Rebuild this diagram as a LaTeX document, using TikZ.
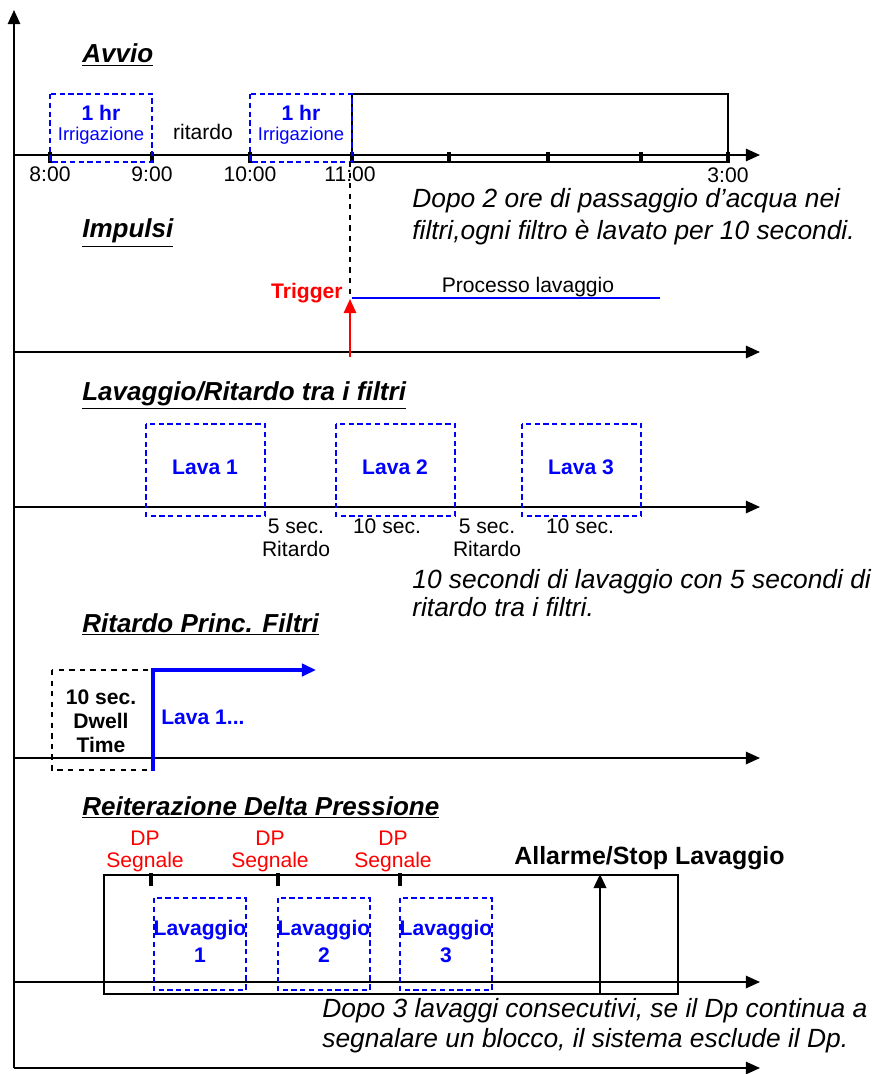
\documentclass[tikz,border=0pt]{standalone}
\usepackage{fontspec}
\setmainfont{Liberation Sans}
\usetikzlibrary{arrows.meta,positioning}

\tikzset{
  asse/.style={->, line width=1.1pt},
  titolo/.style={anchor=base west, inner sep=0pt, font=\fontsize{14.8}{17}\selectfont\bfseries\itshape},
  nota/.style={anchor=base west, inner sep=0pt, font=\fontsize{15}{18}\selectfont\itshape},
  etich/.style={inner sep=0pt, font=\fontsize{12}{14}\selectfont},
  etichb/.style={inner sep=0pt, font=\fontsize{12}{14}\selectfont\bfseries},
  blu/.style={draw=blue, line width=0.9pt, dash pattern=on 3pt off 2pt},
  tacca/.style={line width=2pt}
}

\begin{document}
\begin{tikzpicture}[x=0.02cm, y=-0.02cm, >={Triangle[length=8pt, width=7pt]}]

        \useasboundingbox (0,0) rectangle (880,1074);

        % 1. Asse verticale e asse di fondo
        \draw[asse] (14,1068) -- (14,10);
        \draw[asse] (14,1068) -- (760,1068);

        % 2. Avvio: asse dei tempi, tacche e orari
        \node[titolo] (avvio) at (82,63) {\underline{Avvio}};
        \draw[asse] (14,155) -- (760,155);
        \draw[line width=0.9pt] (352,94) rectangle (728,162);
        \foreach \x in {50,152,250,352,449,548,641,728}
            \draw[tacca] (\x,152) -- (\x,163);
        \node[etich] (h8)  at (50,174)  {8:00};
        \node[etich] (h9)  at (152,174) {9:00};
        \node[etich] (h10) at (250,174) {10:00};
        \node[etich] (h11) at (350,174) {11:00};
        \node[etich] (h3)  at (728,175) {3:00};

        % 3. Due ore di irrigazione con ritardo in mezzo
        \draw[blu] (50,94) rectangle (152,162);
        \draw[blu] (250,94) rectangle (352,162);
        \node[inner sep=0pt, text=blue, font=\fontsize{12}{13}\selectfont\bfseries] (ora1) at (101,113) {1 hr};
        \node[inner sep=0pt, text=blue, font=\fontsize{10.5}{12}\selectfont] (irr1) at (101,136) {Irrigazione};
        \node[inner sep=0pt, text=blue, font=\fontsize{12}{13}\selectfont\bfseries] (ora2) at (301,113) {1 hr};
        \node[inner sep=0pt, text=blue, font=\fontsize{10.5}{12}\selectfont] (irr2) at (301,136) {Irrigazione};
        \node[etich] (rit) at (203,132) {ritardo};

        \node[nota] (nota1) at (412,208) {Dopo 2 ore di passaggio d’acqua nei};
        \node[nota] (nota1b) at (412,240) {filtri,ogni filtro è lavato per 10 secondi.};

        % 4. Impulsi: trigger e processo di lavaggio
        \node[titolo] (impulsi) at (82,238) {\underline{Impulsi}};
        \draw[dashed, line width=0.7pt] (350,162) -- (350,298);
        \draw[asse] (14,352) -- (760,352);
        \draw[blue, line width=1pt] (352,298) -- (660,298);
        \node[etich] (proc) at (528,287) {Processo lavaggio};
        \node[etichb, text=red, anchor=east] (trigger) at (343,293) {Trigger};
        \draw[->, red, line width=1.2pt] (350,357) -- (350,299);

        % 5. Lavaggio e ritardo tra i filtri
        \node[titolo] (lavrit) at (82,400) {\underline{Lavaggio/Ritardo tra i filtri}};
        \draw[asse] (14,507) -- (760,507);
        \foreach \a/\n in {146/1,336/2,522/3} {
            \draw[blu] (\a,424) rectangle (\a+119,516);
            \node[etichb, text=blue] (lava\n) at (\a+59,467) {Lava \n};
        }
        \node[etich] (sec1) at (296,526) {5 sec.};
        \node[etich] (rit1) at (296,549) {Ritardo};
        \node[etich] (sec2) at (387,526) {10 sec.};
        \node[etich] (sec3) at (487,526) {5 sec.};
        \node[etich] (rit3) at (487,549) {Ritardo};
        \node[etich] (sec4) at (580,526) {10 sec.};

        \node[nota] (nota2) at (412,588) {10 secondi di lavaggio con 5 secondi di};
        \node[nota] (nota2b) at (412,616) {ritardo tra i filtri.};

        % 6. Ritardo principale dei filtri
        \node[titolo] (princ) at (82,632) {\underline{Ritardo Princ. Filtri}};
        \draw[asse] (14,758) -- (760,758);
        \draw[dashed, line width=0.8pt] (52,670) rectangle (153,770);
        \node[etichb] (dw1) at (101,697) {10 sec.};
        \node[etichb] (dw2) at (101,721) {Dwell};
        \node[etichb] (dw3) at (101,745) {Time};
        \draw[->, blue, line width=1.8pt] (153,771) -- (153,670) -- (316,670);
        \node[etichb, text=blue, anchor=west] (lavaa) at (161,717) {Lava 1...};

        % 7. Reiterazione delta pressione
        \node[titolo] (reit) at (82,815) {\underline{Reiterazione Delta Pressione}};
        \draw[line width=0.9pt] (104,875) rectangle (678,994);
        \draw[asse] (14,982) -- (760,982);
        \foreach \x/\c/\b/\n in {151/145/154/1,278/270/278/2,400/393/400/3} {
            \draw[tacca] (\x,873) -- (\x,886);
            \node[etich, text=red] (dp\n) at (\c,838) {DP};
            \node[etich, text=red] (seg\n) at (\c,862) {Segnale};
            \draw[blu] (\b,898) rectangle (\b+92,990);
            \node[etichb, text=blue] (lvg\n) at (\b+46,930) {Lavaggio};
            \node[etichb, text=blue] (num\n) at (\b+46,955) {\n};
        }
        \draw[->, line width=1.6pt] (600,994) -- (600,874);
        \node[inner sep=0pt, anchor=west, font=\fontsize{14.2}{16}\selectfont\bfseries] (allarme) at (514,858) {Allarme/Stop Lavaggio};

        \node[nota] (nota3) at (322,1017) {Dopo 3 lavaggi consecutivi, se il Dp continua a};
        \node[nota] (nota3b) at (322,1047) {segnalare un blocco, il sistema esclude il Dp.};

    \end{tikzpicture}
\end{document}
